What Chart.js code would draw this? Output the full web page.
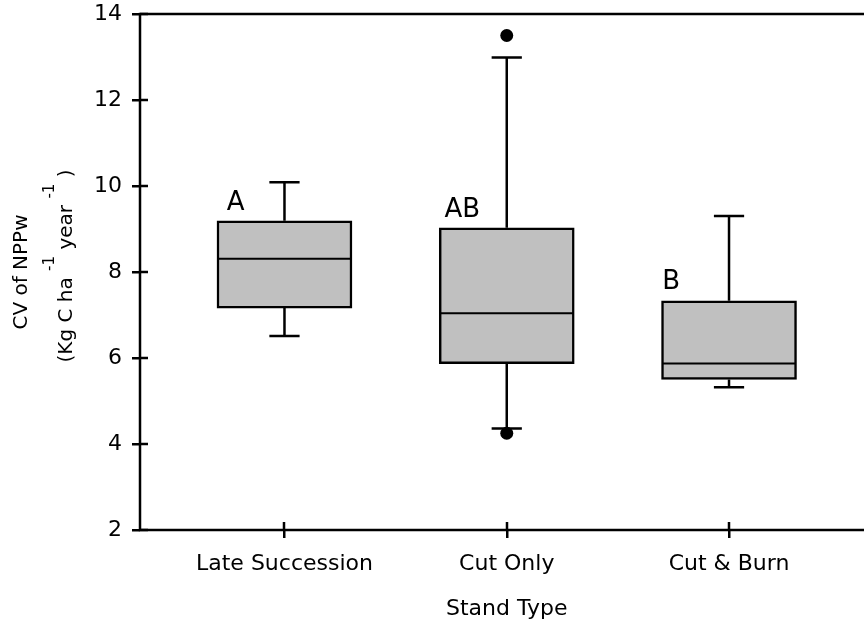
<!DOCTYPE html>
<html>
<head>
  <title>CV of NPPw by Stand Type</title>
  <script src="https://cdn.jsdelivr.net/npm/chart.js"></script>
  <style>
    html, body {
      margin: 0;
      padding: 0;
      overflow: hidden;
      background-color: #fff;
    }

    .chart-wrap {
      width: 880px;
      height: 626px;
    }
  </style>
</head>
<body>
<div class="chart-wrap">
  <canvas id="boxChart"></canvas>
</div>

<script>
  // values
  const categories = ['Late Succession', 'Cut Only', 'Cut & Burn'];
  const whiskerLow = [6.51, 4.36, 5.32];
  const q1 = [7.16, 5.87, 5.50];
  const median = [8.31, 7.04, 5.87];
  const q3 = [9.19, 9.03, 7.33];
  const whiskerHigh = [10.09, 12.99, 9.30];
  const outlierCat = [2, 2];
  const outlierVal = [13.50, 4.25];
  const groupLetters = ['A', 'AB', 'B'];
  const letterX = [0.74, 1.72, 2.70];
  const letterY = [9.45, 9.27, 7.60];

  const FONT = 'DejaVu Sans';
  const LINE_W = 2.5;
  const boxHalf = 0.301;  // box half width in x units
  const capHalf = 0.068;  // whisker cap half width in x units

  const boxData = categories.map((c, i) => ({ x: i + 1, y: [q1[i], q3[i]] }));

  const whiskerData = [];
  const medianData = [];
  categories.forEach((c, i) => {
    const x = i + 1;
    whiskerData.push(
      { x: x, y: q3[i] }, { x: x, y: whiskerHigh[i] }, { x: x, y: null },
      { x: x - capHalf, y: whiskerHigh[i] }, { x: x + capHalf, y: whiskerHigh[i] }, { x: x, y: null },
      { x: x, y: q1[i] }, { x: x, y: whiskerLow[i] }, { x: x, y: null },
      { x: x - capHalf, y: whiskerLow[i] }, { x: x + capHalf, y: whiskerLow[i] }, { x: x, y: null }
    );
    medianData.push({ x: x - boxHalf, y: median[i] }, { x: x + boxHalf, y: median[i] }, { x: x, y: null });
  });

  const outlierData = outlierCat.map((c, i) => ({ x: c, y: outlierVal[i] }));

  // frame, inner tick marks, group letters and the y title with superscripts
  const decorPlugin = {
    id: 'decor',
    afterDraw(chart) {
      const ctx = chart.ctx;
      const a = chart.chartArea;
      const xs = chart.scales.x;
      const ys = chart.scales.y;
      ctx.save();
      ctx.strokeStyle = '#000';
      ctx.lineWidth = LINE_W;
      ctx.strokeRect(a.left, a.top, a.right - a.left, a.bottom - a.top);

      ctx.beginPath();
      ys.ticks.forEach(t => {
        const py = Math.round(ys.getPixelForValue(t.value));
        ctx.moveTo(a.left, py);
        ctx.lineTo(a.left + 8, py);
      });
      xs.ticks.forEach(t => {
        const px = Math.round(xs.getPixelForValue(t.value));
        ctx.moveTo(px, a.bottom);
        ctx.lineTo(px, a.bottom - 8);
      });
      ctx.stroke();

      ctx.fillStyle = '#000';
      ctx.font = '26px "' + FONT + '"';
      ctx.textAlign = 'left';
      ctx.textBaseline = 'alphabetic';
      groupLetters.forEach((g, i) => {
        ctx.fillText(g, xs.getPixelForValue(letterX[i]), ys.getPixelForValue(letterY[i]));
      });

      // y axis title, two rotated lines
      ctx.translate(27, 272);
      ctx.rotate(-Math.PI / 2);
      ctx.textAlign = 'center';
      ctx.font = '20px "' + FONT + '"';
      ctx.fillText('CV of NPPw', 0, 0);
      ctx.restore();

      ctx.save();
      ctx.translate(72, 266);
      ctx.rotate(-Math.PI / 2);
      ctx.fillStyle = '#000';
      ctx.textBaseline = 'alphabetic';
      ctx.textAlign = 'left';
      const parts = [
        { t: '(Kg C ha ', sup: false },
        { t: '-1', sup: true },
        { t: ' year ', sup: false },
        { t: '-1', sup: true },
        { t: ' )', sup: false }
      ];
      const mainFont = '20px "' + FONT + '"';
      const supFont = '15px "' + FONT + '"';
      let total = 0;
      parts.forEach(p => {
        ctx.font = p.sup ? supFont : mainFont;
        p.w = ctx.measureText(p.t).width;
        total += p.w;
      });
      let cx = -total / 2;
      parts.forEach(p => {
        ctx.font = p.sup ? supFont : mainFont;
        ctx.fillText(p.t, cx, p.sup ? -18 : 0);
        cx += p.w;
      });
      ctx.restore();
    }
  };

  const tickFont = { family: FONT, size: 22 };

  new Chart(document.getElementById('boxChart').getContext('2d'), {
    type: 'bar',
    data: {
      datasets: [
        {
          type: 'bar',
          data: boxData,
          backgroundColor: '#c0c0c0',
          borderColor: '#000',
          borderWidth: LINE_W,
          borderSkipped: false,
          barThickness: 135,
          order: 3
        },
        {
          type: 'line',
          data: whiskerData,
          borderColor: '#000',
          borderWidth: LINE_W,
          pointRadius: 0,
          spanGaps: false,
          fill: false,
          order: 2
        },
        {
          type: 'line',
          data: medianData,
          borderColor: '#000',
          borderWidth: 2,
          pointRadius: 0,
          spanGaps: false,
          fill: false,
          order: 1
        },
        {
          type: 'scatter',
          data: outlierData,
          backgroundColor: '#000',
          borderWidth: 0,
          pointRadius: 6.5,
          order: 0
        }
      ]
    },
    options: {
      responsive: true,
      maintainAspectRatio: false,
      animation: false,
      layout: { padding: { top: 14, right: 5, left: 0, bottom: 0 } },
      plugins: {
        legend: { display: false },
        tooltip: { enabled: false }
      },
      scales: {
        x: {
          type: 'linear',
          min: 0.35,
          max: 3.65,
          offset: false,
          afterBuildTicks: s => { s.ticks = categories.map((c, i) => ({ value: i + 1 })); },
          afterFit: s => { s.height = 96; s.paddingLeft = 0; s.paddingRight = 0; },
          grid: { drawOnChartArea: false, offset: false, tickLength: 8, color: '#000', lineWidth: LINE_W },
          border: { display: false },
          ticks: {
            callback: v => categories[Math.round(v) - 1],
            font: tickFont,
            color: '#000',
            padding: 13,
            maxRotation: 0,
            autoSkip: false
          },
          title: {
            display: true,
            text: 'Stand Type',
            font: tickFont,
            color: '#000',
            padding: { top: 0, bottom: 4 }
          }
        },
        y: {
          min: 2,
          max: 14,
          afterFit: s => { s.width = 140; s.paddingTop = 0; s.paddingBottom = 0; },
          grid: { drawOnChartArea: false, tickLength: 8, color: '#000', lineWidth: LINE_W },
          border: { display: false },
          ticks: { stepSize: 2, font: tickFont, color: '#000', padding: 10 }
        }
      }
    },
    plugins: [decorPlugin]
  });
</script>
</body>
</html>
